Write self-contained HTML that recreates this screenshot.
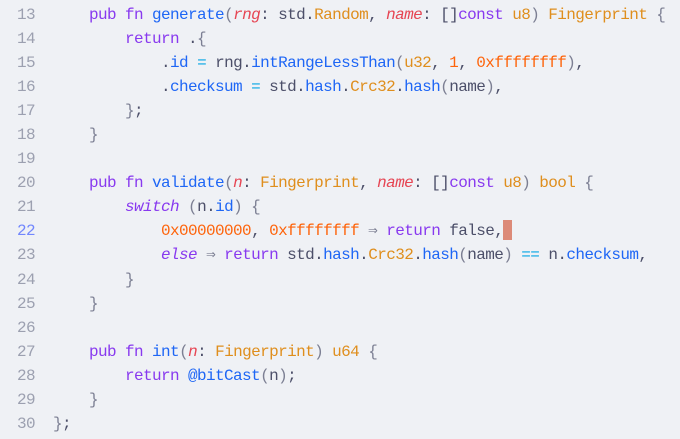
<!DOCTYPE html>
<html><head><meta charset="utf-8"><style>
html,body{margin:0;padding:0;background:#eff1f5;width:680px;height:439px;overflow:hidden}
.w{position:relative;font-family:"Liberation Mono","DejaVu Sans Mono",monospace;font-size:16px;letter-spacing:-0.6px;line-height:24.06px;padding-top:3px}
.l{height:24.06px;white-space:pre;position:relative}
.n{position:absolute;left:0;width:35px;text-align:right;color:#9ca0b0}
.c{position:absolute;left:53px;color:#4c4f69}
.k{color:#8839ef}.f{color:#1e66f5}.p{color:#e64553;font-style:italic}.t{color:#df8e1d}.o{color:#fe640b}.s{color:#04a5e5}.g{color:#7c7f93}.i{font-style:italic;color:#8839ef}
.cur{display:inline-block;width:9px;height:20px;background:#dc8a78;vertical-align:-5px}
</style></head><body><div class="w">
<div class="l"><span class="n">13</span><span class="c">    <span class="k">pub fn</span> <span class="f">generate</span><span class="g">(</span><span class="p">rng</span>: std.<span class="t">Random</span>, <span class="p">name</span>: []<span class="k">const</span> <span class="t">u8</span><span class="g">)</span> <span class="t">Fingerprint</span> <span class="g">{</span></span></div>
<div class="l"><span class="n">14</span><span class="c">        <span class="k">return</span> .<span class="g">{</span></span></div>
<div class="l"><span class="n">15</span><span class="c">            .<span class="f">id</span> <span class="s">=</span> rng.<span class="f">intRangeLessThan</span><span class="g">(</span><span class="t">u32</span>, <span class="o">1</span>, <span class="o">0xffffffff</span><span class="g">)</span>,</span></div>
<div class="l"><span class="n">16</span><span class="c">            .<span class="f">checksum</span> <span class="s">=</span> std.<span class="f">hash</span>.<span class="t">Crc32</span>.<span class="f">hash</span><span class="g">(</span>name<span class="g">)</span>,</span></div>
<div class="l"><span class="n">17</span><span class="c">        <span class="g">}</span>;</span></div>
<div class="l"><span class="n">18</span><span class="c">    <span class="g">}</span></span></div>
<div class="l"><span class="n">19</span><span class="c"></span></div>
<div class="l"><span class="n">20</span><span class="c">    <span class="k">pub fn</span> <span class="f">validate</span><span class="g">(</span><span class="p">n</span>: <span class="t">Fingerprint</span>, <span class="p">name</span>: []<span class="k">const</span> <span class="t">u8</span><span class="g">)</span> <span class="t">bool</span> <span class="g">{</span></span></div>
<div class="l"><span class="n">21</span><span class="c">        <span class="i">switch</span> <span class="g">(</span>n.<span class="f">id</span><span class="g">)</span> <span class="g">{</span></span></div>
<div class="l"><span class="n" style="color:#7287fd">22</span><span class="c">            <span class="o">0x00000000</span>, <span class="o">0xffffffff</span> <span class="g">⇒</span> <span class="k">return</span> false,<span class="cur"></span></span></div>
<div class="l"><span class="n">23</span><span class="c">            <span class="i">else</span> <span class="g">⇒</span> <span class="k">return</span> std.<span class="f">hash</span>.<span class="t">Crc32</span>.<span class="f">hash</span><span class="g">(</span>name<span class="g">)</span> <span class="s">==</span> n.<span class="f">checksum</span>,</span></div>
<div class="l"><span class="n">24</span><span class="c">        <span class="g">}</span></span></div>
<div class="l"><span class="n">25</span><span class="c">    <span class="g">}</span></span></div>
<div class="l"><span class="n">26</span><span class="c"></span></div>
<div class="l"><span class="n">27</span><span class="c">    <span class="k">pub fn</span> <span class="f">int</span><span class="g">(</span><span class="p">n</span>: <span class="t">Fingerprint</span><span class="g">)</span> <span class="t">u64</span> <span class="g">{</span></span></div>
<div class="l"><span class="n">28</span><span class="c">        <span class="k">return</span> <span class="f">@bitCast</span><span class="g">(</span>n<span class="g">)</span>;</span></div>
<div class="l"><span class="n">29</span><span class="c">    <span class="g">}</span></span></div>
<div class="l"><span class="n">30</span><span class="c"><span class="g">}</span>;</span></div>
</div></body></html>
